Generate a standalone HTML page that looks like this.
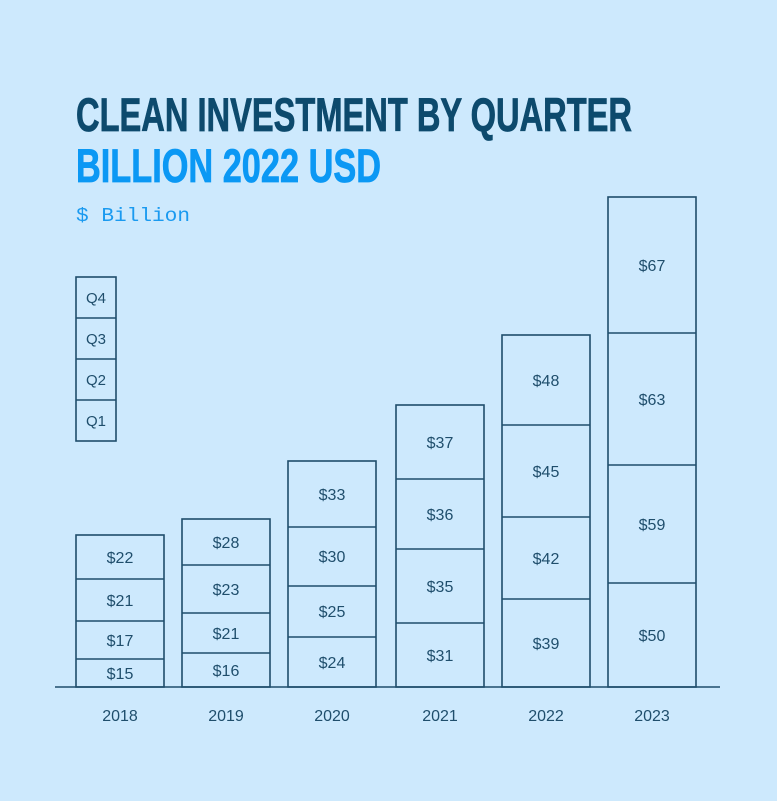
<!DOCTYPE html>
<html><head><meta charset="utf-8"><style>
body{margin:0;background:#cde9fd;}
svg{display:block}
</style></head><body>
<svg width="777" height="801" xmlns="http://www.w3.org/2000/svg">
<rect width="777" height="801" fill="#cde9fd"/>
<g font-family="Liberation Sans, sans-serif" font-weight="bold">
<text x="76" y="131" font-size="47" fill="#0d4a6d" stroke="#0d4a6d" stroke-width="0.8" textLength="556" lengthAdjust="spacingAndGlyphs">CLEAN INVESTMENT BY QUARTER</text>
<text x="76" y="182" font-size="47" fill="#0b98f4" stroke="#0b98f4" stroke-width="0.8" textLength="305" lengthAdjust="spacingAndGlyphs">BILLION 2022 USD</text>
</g>
<text x="76" y="221" font-family="Liberation Mono, monospace" font-size="19" fill="#1a9af0" textLength="114" lengthAdjust="spacingAndGlyphs">$ Billion</text>
<g fill="none" stroke="#1f4e6c" stroke-width="1.6">
<line x1="55" y1="687" x2="720" y2="687"/>
<rect x="76" y="277" width="40" height="164"/>
<line x1="76" y1="318" x2="116" y2="318"/><line x1="76" y1="359" x2="116" y2="359"/><line x1="76" y1="400" x2="116" y2="400"/>
<rect x="76" y="535" width="88" height="152"/>
<line x1="76" x2="164" y1="579" y2="579"/><line x1="76" x2="164" y1="621" y2="621"/><line x1="76" x2="164" y1="659" y2="659"/>
<rect x="182" y="519" width="88" height="168"/>
<line x1="182" x2="270" y1="565" y2="565"/><line x1="182" x2="270" y1="613" y2="613"/><line x1="182" x2="270" y1="653" y2="653"/>
<rect x="288" y="461" width="88" height="226"/>
<line x1="288" x2="376" y1="527" y2="527"/><line x1="288" x2="376" y1="586" y2="586"/><line x1="288" x2="376" y1="637" y2="637"/>
<rect x="396" y="405" width="88" height="282"/>
<line x1="396" x2="484" y1="479" y2="479"/><line x1="396" x2="484" y1="549" y2="549"/><line x1="396" x2="484" y1="623" y2="623"/>
<rect x="502" y="335" width="88" height="352"/>
<line x1="502" x2="590" y1="425" y2="425"/><line x1="502" x2="590" y1="517" y2="517"/><line x1="502" x2="590" y1="599" y2="599"/>
<rect x="608" y="197" width="88" height="490"/>
<line x1="608" x2="696" y1="333" y2="333"/><line x1="608" x2="696" y1="465" y2="465"/><line x1="608" x2="696" y1="583" y2="583"/>
</g>
<g font-family="Liberation Sans, sans-serif" font-size="15" fill="#1f4e6c" text-anchor="middle">
<text x="96" y="303">Q4</text><text x="96" y="344">Q3</text><text x="96" y="385">Q2</text><text x="96" y="426">Q1</text>
</g>
<g font-family="Liberation Sans, sans-serif" font-size="16" fill="#1f4e6c" text-anchor="middle">
<text x="120" y="563">$22</text><text x="120" y="606">$21</text><text x="120" y="646">$17</text><text x="120" y="679">$15</text>
<text x="226" y="548">$28</text><text x="226" y="595">$23</text><text x="226" y="639">$21</text><text x="226" y="676">$16</text>
<text x="332" y="500">$33</text><text x="332" y="562">$30</text><text x="332" y="617">$25</text><text x="332" y="668">$24</text>
<text x="440" y="448">$37</text><text x="440" y="520">$36</text><text x="440" y="592">$35</text><text x="440" y="661">$31</text>
<text x="546" y="386">$48</text><text x="546" y="477">$45</text><text x="546" y="564">$42</text><text x="546" y="649">$39</text>
<text x="652" y="271">$67</text><text x="652" y="405">$63</text><text x="652" y="530">$59</text><text x="652" y="641">$50</text>
<text x="120" y="721">2018</text><text x="226" y="721">2019</text><text x="332" y="721">2020</text><text x="440" y="721">2021</text><text x="546" y="721">2022</text><text x="652" y="721">2023</text>
</g>
</svg>
</body></html>
